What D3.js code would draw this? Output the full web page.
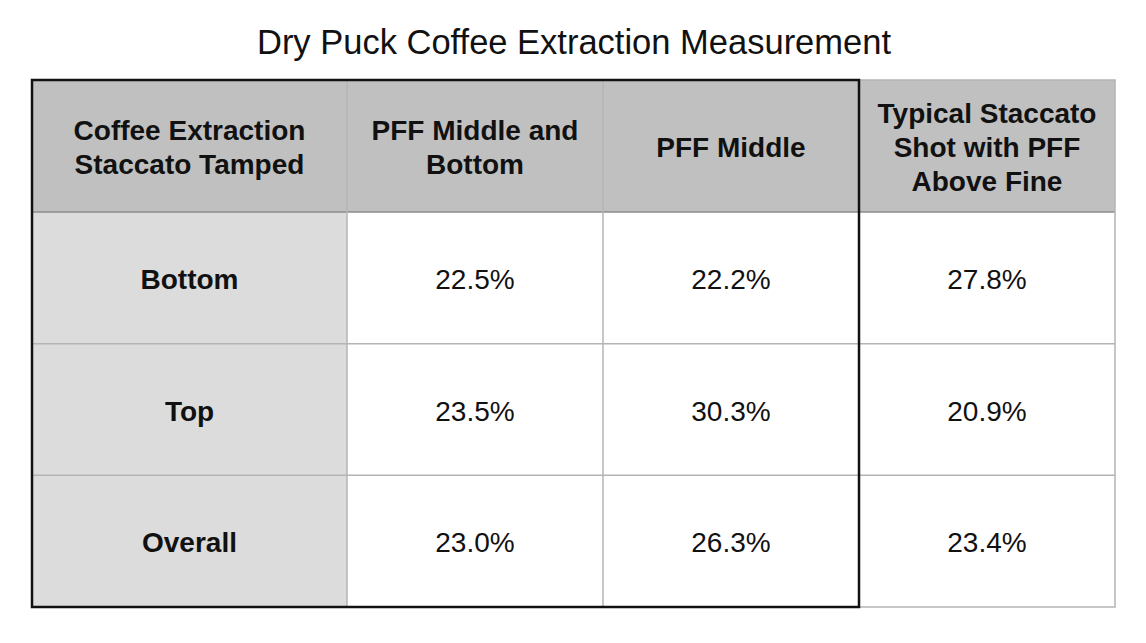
<!DOCTYPE html>
<html>
<head>
<meta charset="utf-8">
<script src="https://cdn.jsdelivr.net/npm/d3@7"></script>
<style>
  body { margin: 0; background: #fff; }
  svg { display: block; }
</style>
</head>
<body>
<div id="vis"></div>
<script>
'use strict'

// data
const title = "Dry Puck Coffee Extraction Measurement"
const corner = ["Coffee Extraction", "Staccato Tamped"]
const columns = [
  ["PFF Middle and", "Bottom"],
  ["PFF Middle"],
  ["Typical Staccato", "Shot with PFF", "Above Fine"]
]
const rows = ["Bottom", "Top", "Overall"]
const pffMiddleBottom = [22.5, 23.5, 23.0]
const pffMiddle = [22.2, 30.3, 26.3]
const typicalStaccato = [27.8, 20.9, 23.4]

function wrapper(){
  let width = 1146
  let height = 643

  let left = 32, right = 1115, top = 80, headBottom = 212, bottom = 607
  let firstColRight = 347

  let svg = d3.select("#vis").append("svg")
    .attr("width", width)
    .attr("height", height)

  let font = "'Liberation Sans', Arial, Helvetica, sans-serif"

  let x = d3.scaleBand()
    .domain(d3.range(columns.length))
    .range([firstColRight, right])

  let y = d3.scaleBand()
    .domain(rows)
    .range([headBottom, bottom])

  let series = [pffMiddleBottom, pffMiddle, typicalStaccato]

  // title
  svg.append("text")
    .attr("x", 574)
    .attr("y", 54)
    .attr("text-anchor", "middle")
    .attr("font-family", font)
    .attr("font-size", 34.5)
    .attr("fill", "#111")
    .text(title)

  // backgrounds
  svg.append("rect")
    .attr("x", left).attr("y", top)
    .attr("width", right - left).attr("height", headBottom - top)
    .attr("fill", "#c0c0c0")

  svg.append("rect")
    .attr("x", left).attr("y", headBottom)
    .attr("width", firstColRight - left).attr("height", bottom - headBottom)
    .attr("fill", "#dcdcdc")

  // thin grid lines
  let grid = svg.append("g")
    .attr("stroke", "#b4b4b4")
    .attr("stroke-width", 1.5)

  grid.selectAll(".hline")
    .data(rows.slice(1))
    .join("line")
    .attr("x1", left).attr("x2", right)
    .attr("y1", d => y(d)).attr("y2", d => y(d))

  grid.append("line")
    .attr("x1", left).attr("x2", right)
    .attr("y1", headBottom).attr("y2", headBottom)
    .attr("stroke", "#8c8c8c")

  grid.selectAll(".vline")
    .data(d3.range(columns.length))
    .join("line")
    .attr("x1", d => x(d)).attr("x2", d => x(d))
    .attr("y1", top).attr("y2", bottom)

  // outer thin border for last column
  grid.append("rect")
    .attr("x", x(columns.length - 1)).attr("y", top)
    .attr("width", right - x(columns.length - 1)).attr("height", bottom - top)
    .attr("fill", "none")

  // thick border around first three columns
  svg.append("rect")
    .attr("x", left).attr("y", top)
    .attr("width", x(columns.length - 1) - left).attr("height", bottom - top)
    .attr("fill", "none")
    .attr("stroke", "#111")
    .attr("stroke-width", 2.5)

  let lineH = 34

  function multiline(g, lines, cx, cy, bold){
    let t = g.append("text")
      .attr("text-anchor", "middle")
      .attr("font-family", font)
      .attr("font-size", 28)
      .attr("font-weight", bold ? "bold" : "normal")
      .attr("fill", "#111")
    let n = lines.length
    lines.forEach(function(l, i){
      t.append("tspan")
        .attr("x", cx)
        .attr("y", cy + (i - (n - 1) / 2) * lineH + 10)
        .text(l)
    })
  }

  let headMid = (top + headBottom) / 2 + 1
  multiline(svg, corner, (left + firstColRight) / 2, headMid, true)
  columns.forEach(function(c, i){
    multiline(svg, c, x(i) + x.bandwidth() / 2, headMid, true)
  })

  rows.forEach(function(r, j){
    let cy = y(r) + y.bandwidth() / 2 + 1
    multiline(svg, [r], (left + firstColRight) / 2, cy, true)
    series.forEach(function(s, i){
      multiline(svg, [s[j].toFixed(1) + "%"], x(i) + x.bandwidth() / 2, cy, false)
    })
  })
}

wrapper()
</script>
</body>
</html>
